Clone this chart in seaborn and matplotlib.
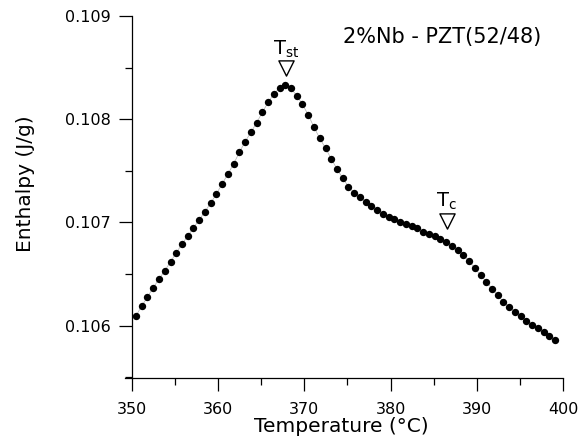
import numpy as np
import pandas as pd
import matplotlib
matplotlib.use("Agg")
import matplotlib.pyplot as plt
from matplotlib.ticker import MultipleLocator, FormatStrFormatter
import seaborn as sns

# ----------------------------
# Enthalpy vs temperature, 2%Nb - PZT(52/48)
# ----------------------------

temperature = [
    350.47, 351.14, 351.80, 352.47, 353.13, 353.80, 354.47, 355.13, 355.80, 356.46,
    357.13, 357.80, 358.46, 359.13, 359.79, 360.46, 361.13, 361.79, 362.46, 363.12,
    363.79, 364.46, 365.12, 365.79, 366.45, 367.12, 367.79, 368.45, 369.12, 369.78,
    370.45, 371.12, 371.78, 372.45, 373.11, 373.78, 374.45, 375.11, 375.78, 376.44,
    377.11, 377.78, 378.44, 379.11, 379.77, 380.44, 381.11, 381.77, 382.44, 383.10,
    383.77, 384.44, 385.10, 385.77, 386.43, 387.10, 387.77, 388.43, 389.10, 389.76,
    390.43, 391.10, 391.76, 392.43, 393.09, 393.76, 394.43, 395.09, 395.76, 396.42,
    397.09, 397.76, 398.42, 399.09,
]

enthalpy = [
    0.106097, 0.106191, 0.106280, 0.106368, 0.106452, 0.106532, 0.106619, 0.106706, 0.106790, 0.106868,
    0.106948, 0.107025, 0.107105, 0.107187, 0.107277, 0.107373, 0.107470, 0.107567, 0.107680, 0.107782,
    0.107873, 0.107966, 0.108067, 0.108163, 0.108244, 0.108305, 0.108331, 0.108299, 0.108227, 0.108144,
    0.108041, 0.107922, 0.107815, 0.107719, 0.107618, 0.107518, 0.107428, 0.107347, 0.107286, 0.107245,
    0.107202, 0.107163, 0.107122, 0.107086, 0.107057, 0.107032, 0.107009, 0.106986, 0.106967, 0.106945,
    0.106912, 0.106887, 0.106864, 0.106838, 0.106809, 0.106774, 0.106735, 0.106684, 0.106629, 0.106558,
    0.106490, 0.106426, 0.106358, 0.106293, 0.106232, 0.106181, 0.106135, 0.106090, 0.106042, 0.106003,
    0.105978, 0.105935, 0.105903, 0.105858,
]

# transition markers (open triangles) and their labels
transition_T = [367.85, 386.5]
transition_H = [0.108495, 0.107017]
transition_labels = ["T$_\\mathregular{st}$", "T$_\\mathregular{c}$"]

sample_label = "2%Nb - PZT(52/48)"

df = pd.DataFrame({"temperature": temperature, "enthalpy": enthalpy})

sns.set_style("ticks")
plt.rcParams["font.family"] = ["DejaVu Sans"]
plt.rcParams["mathtext.fontset"] = "custom"
plt.rcParams["mathtext.rm"] = "DejaVu Sans"
plt.rcParams["text.color"] = "black"
plt.rcParams["axes.labelcolor"] = "black"
plt.rcParams["axes.edgecolor"] = "black"
plt.rcParams["xtick.color"] = "black"
plt.rcParams["ytick.color"] = "black"

fig = plt.figure(figsize=(5.85, 4.46), dpi=100)
ax = fig.add_axes([125 / 585, (446 - 378.3) / 446, (563 - 125) / 585, (378.3 - 16) / 446])

sns.lineplot(data=df, x="temperature", y="enthalpy", color="#b0b0b0",
             linewidth=0.5, ax=ax, sort=False)
sns.scatterplot(data=df, x="temperature", y="enthalpy", color="black",
                s=28, linewidth=0, ax=ax, zorder=3)

# open triangles with labels
ax.scatter(transition_T, transition_H, marker="v", s=120, facecolors="white",
           edgecolors="black", linewidths=1.0, zorder=4)
for t, h, lab in zip(transition_T, transition_H, transition_labels):
    ax.annotate(lab, (t, h), xytext=(0, 6), textcoords="offset points",
                ha="center", va="bottom", fontsize=14)

ax.text(0.725, 0.943, sample_label, transform=ax.transAxes,
        ha="center", va="center", fontsize=15)

ax.set_xlim(349.19, 400)
ax.set_ylim(0.10549, 0.109)
ax.spines["left"].set_position(("data", 350))
ax.spines["top"].set_visible(False)
ax.spines["right"].set_visible(False)
for s in ["left", "bottom"]:
    ax.spines[s].set_linewidth(0.9)

ax.xaxis.set_major_locator(MultipleLocator(10))
ax.xaxis.set_minor_locator(MultipleLocator(5))
ax.yaxis.set_major_locator(MultipleLocator(0.001))
ax.yaxis.set_minor_locator(MultipleLocator(0.0005))
ax.yaxis.set_major_formatter(FormatStrFormatter("%.3f"))
ax.tick_params(which="major", length=9.5, width=0.9, labelsize=11.5, pad=6, color="black")
ax.tick_params(which="minor", length=5, width=0.9, color="black")
ax.tick_params(axis="x", which="major", pad=7.5)

ax.set_xlabel("Temperature (°C)", fontsize=14.5)
ax.set_ylabel("Enthalpy (J/g)", fontsize=14.5)
ax.xaxis.set_label_coords(0.493, -0.107)
ax.yaxis.set_label_coords(-0.205, 0.536)

fig.savefig("out.png", dpi=100)
